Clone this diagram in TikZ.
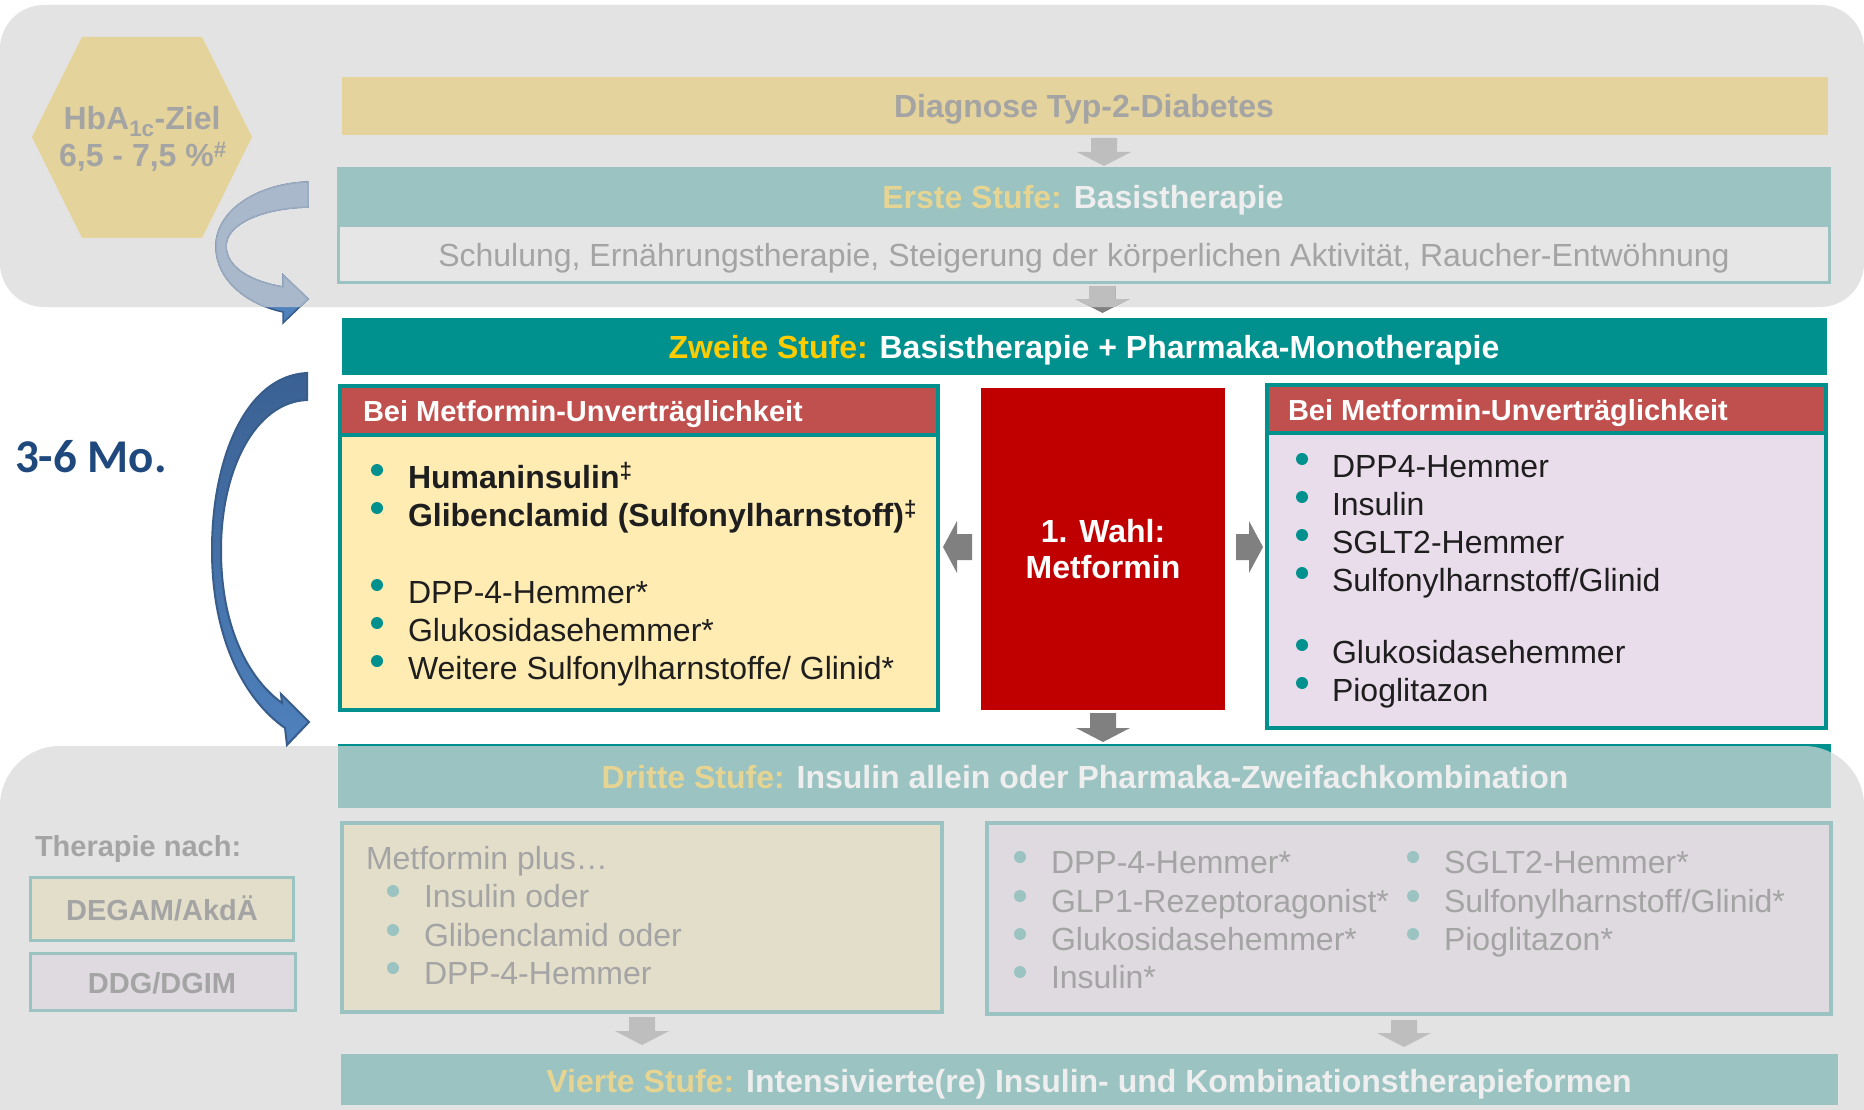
\documentclass[tikz,border=0pt]{standalone}
\usepackage{fontspec}
\setmainfont{Liberation Sans}
\newfontfamily\calibfont{Carlito}
\usetikzlibrary{calc}
\definecolor{bandgray}{HTML}{E3E3E3}
\definecolor{tanF}{HTML}{E4D39C}
\definecolor{hexF}{HTML}{E4D39B}
\definecolor{tealF}{HTML}{9AC3C2}
\definecolor{grayT}{HTML}{A4A4A4}
\definecolor{tanT}{HTML}{E6D592}
\definecolor{whiteT}{HTML}{EEEEEE}
\definecolor{tealD}{HTML}{00918F}
\definecolor{yelC}{HTML}{FFCC00}
\definecolor{redH}{HTML}{C0504D}
\definecolor{yelBody}{HTML}{FFECB3}
\definecolor{lavBody}{HTML}{EADDEB}
\definecolor{redBox}{HTML}{C00000}
\definecolor{darkT}{HTML}{1E1E1E}
\definecolor{midArrow}{HTML}{808080}
\definecolor{fadeArrow}{HTML}{BEBEBE}
\definecolor{beigeF}{HTML}{E3DECA}
\definecolor{lavF}{HTML}{DEDADF}
\definecolor{blueT}{HTML}{1F497D}
\definecolor{blueA}{HTML}{4F81BD}
\definecolor{blueB}{HTML}{3B6193}
\definecolor{blueLine}{HTML}{385D8A}
\definecolor{blueF}{HTML}{A9B8CA}
\definecolor{blueFL}{HTML}{9AABC1}
\definecolor{boxgray}{HTML}{E6E6E6}
\begin{document}
\begin{tikzpicture}[x=1pt,y=-1pt,
  box/.style={anchor=north west, inner sep=0pt, outer sep=0pt},
  txt/.style={inner sep=0pt, outer sep=0pt},
  bw/.style={txt, anchor=base west},
  bc/.style={txt, anchor=base},
  fB/.style={font=\fontsize{32}{38}\selectfont\bfseries},
  fR/.style={font=\fontsize{32}{38}\selectfont},
  fH/.style={font=\fontsize{29}{35}\selectfont\bfseries},
  downblock/.style={to path={let \p1=(\tikztostart), \p2=(\tikztotarget) in
    (\x1-13pt,\y1) -- (\x1-13pt,\y2+14pt) -- (\x1-27pt,\y2+14pt) -- (\x1,\y2) --
    (\x1+27pt,\y2+14pt) -- (\x1+13pt,\y2+14pt) -- (\x1+13pt,\y1) -- cycle}},
  leftblock/.style={to path={let \p1=(\tikztostart), \p2=(\tikztotarget) in
    (\x1,\y1+13pt) -- (\x2+14pt,\y1+13pt) -- (\x2+14pt,\y1+26pt) -- (\x2,\y1) --
    (\x2+14pt,\y1-26pt) -- (\x2+14pt,\y1-13pt) -- (\x1,\y1-13pt) -- cycle}},
  rightblock/.style={to path={let \p1=(\tikztostart), \p2=(\tikztotarget) in
    (\x1,\y1+13pt) -- (\x2-14pt,\y1+13pt) -- (\x2-14pt,\y1+26pt) -- (\x2,\y1) --
    (\x2-14pt,\y1-26pt) -- (\x2-14pt,\y1-13pt) -- (\x1,\y1-13pt) -- cycle}},
  bigarrow/.style={draw=blueLine, line width=2pt, top color=blueB, bottom color=blueA},
  smallD/.style={draw=blueLine, line width=1.5pt, fill=blueA},
  smallF/.style={draw=blueFL, line width=1.5pt, fill=blueF},
  dotM/.style={fill=tealD},
  dotF/.style={fill=tealF}
]
\useasboundingbox (0,0) rectangle (1864,1110);
\clip (0,0) rectangle (1864,1110);
\fill[white] (0,0) rectangle (1864,1110);

% bands
\fill[bandgray, rounded corners=44pt] (0,5) rectangle (1864,307);
\fill[bandgray, rounded corners=60pt] (0,746) rectangle (1864,1180);

% hexagon
\fill[hexF] (82,37) -- (202,37) -- (252,137) -- (202,238) -- (82,238) -- (32,137) -- cycle;
\node[bc, fB, text=grayT] (hba1) at (142,130) {HbA\textsubscript{1c}-Ziel};
\node[bc, fB, text=grayT] (hba2) at (143,167) {6,5 - 7,5 \%\textsuperscript{\#}};

% Diagnose
\node[box, fill=tanF, minimum width=1486pt, minimum height=58pt] (diag) at (342,77) {};
\node[bc, fB, text=grayT] (diagtxt) at (1084,118) {Diagnose Typ-2-Diabetes};

% Erste Stufe
\node[box, draw=tealF, line width=3pt, fill=boxgray, minimum width=1491pt, minimum height=113pt] (erste) at (338,169) {};
\node[box, fill=tealF, minimum width=1491pt, minimum height=58pt] (erstehead) at (338,169) {};
\node[bc, fB, text=whiteT] (erstetxt) at (1083,209) {{\color{tanT}Erste Stufe:} Basistherapie};
\node[bc, fR, text=grayT] (schulung) at (1084,266) {Schulung, Ernährungstherapie, Steigerung der körperlichen Aktivität, Raucher-Entwöhnung};

% Zweite Stufe
\node[box, fill=tealD, minimum width=1485pt, minimum height=57pt] (zweite) at (342,318) {};
\node[bc, fB, text=white] (zweitetxt) at (1084,358) {{\color{yelC}Zweite Stufe:} Basistherapie + Pharmaka-Monotherapie};

% arrows in top band
\fill[fadeArrow] ([xshift=19pt,yshift=-3pt]diag.south) to[downblock] ([yshift=3pt]erste.north);
\fill[midArrow] ([xshift=19pt,yshift=-4pt]erste.south) to[downblock] ([yshift=5pt]zweite.north);
\path[smallD] (308,182) .. controls (255,184) and (216,212) .. (216,246) .. controls (216,282) and (250,305) .. (283,312) -- (283,323) -- (308,299) -- (283,275) -- (283,287) .. controls (252,282) and (226,268) .. (226,246) .. controls (226,224) and (262,208) .. (308,207) -- cycle;
\begin{scope}
  \clip[rounded corners=44pt] (0,5) rectangle (1864,307);
  \fill[fadeArrow] ([xshift=19pt,yshift=-4pt]erste.south) to[downblock] ([yshift=5pt]zweite.north);
  \path[smallF] (308,182) .. controls (255,184) and (216,212) .. (216,246) .. controls (216,282) and (250,305) .. (283,312) -- (283,323) -- (308,299) -- (283,275) -- (283,287) .. controls (252,282) and (226,268) .. (226,246) .. controls (226,224) and (262,208) .. (308,207) -- cycle;
\end{scope}

% left box
\node[box, draw=tealD, line width=3.5pt, fill=yelBody, minimum width=598pt, minimum height=324pt] (lbox) at (340,386) {};
\node[box, draw=tealD, line width=3.5pt, fill=redH, minimum width=598pt, minimum height=49pt] (lhead) at (340,386) {};
\node[bw, fH, text=white] (lheadtxt) at (363,421) {Bei Metformin-Unverträglichkeit};
\foreach \yy in {470,508,585,623,661} \fill[dotM] (377,\yy) circle[radius=6pt];
\node[bw, fB, text=darkT] (l1) at (408,488) {Humaninsulin\textsuperscript{‡}};
\node[bw, fB, text=darkT] (l2) at (408,526) {Glibenclamid (Sulfonylharnstoff)\textsuperscript{‡}};
\node[bw, fR, text=darkT] (l3) at (408,603) {DPP-4-Hemmer*};
\node[bw, fR, text=darkT] (l4) at (408,641) {Glukosidasehemmer*};
\node[bw, fR, text=darkT] (l5) at (408,679) {Weitere Sulfonylharnstoffe/ Glinid*};

% red box
\node[box, fill=redBox, minimum width=244pt, minimum height=322pt] (redbox) at (981,388) {};
\node[bc, fB, text=white] (wahl1) at (1103,542) {1. Wahl:};
\node[bc, fB, text=white] (wahl2) at (1103,578) {Metformin};

% right box
\node[box, draw=tealD, line width=3.5pt, fill=lavBody, minimum width=559pt, minimum height=343pt] (rbox) at (1267,385) {};
\node[box, draw=tealD, line width=3.5pt, fill=redH, minimum width=559pt, minimum height=48pt] (rhead) at (1267,385) {};
\node[bw, fH, text=white] (rheadtxt) at (1288,420) {Bei Metformin-Unverträglichkeit};
\foreach \yy in {459,497,535,573,645,683} \fill[dotM] (1302,\yy) circle[radius=6pt];
\node[bw, fR, text=darkT] (r1) at (1332,477) {DPP4-Hemmer};
\node[bw, fR, text=darkT] (r2) at (1332,515) {Insulin};
\node[bw, fR, text=darkT] (r3) at (1332,553) {SGLT2-Hemmer};
\node[bw, fR, text=darkT] (r4) at (1332,591) {Sulfonylharnstoff/Glinid};
\node[bw, fR, text=darkT] (r5) at (1332,663) {Glukosidasehemmer};
\node[bw, fR, text=darkT] (r6) at (1332,701) {Pioglitazon};

% middle arrows
\fill[midArrow] ([xshift=-9pt,yshift=2pt]redbox.west) to[leftblock] ([xshift=5pt]lbox.east);
\fill[midArrow] ([xshift=11pt,yshift=2pt]redbox.east) to[rightblock] ([xshift=-4pt]rbox.west);

% big blue arrow and label
\path[bigarrow] (307,373) .. controls (245,376) and (212,460) .. (212,550) .. controls (212,640) and (245,700) .. (285,728) -- (287,745) -- (309,722) -- (281,694) -- (282,703) .. controls (250,680) and (221,630) .. (221,550) .. controls (221,470) and (255,402) .. (307,400) -- cycle;
\node[bw, font=\calibfont\fontsize{47}{56}\selectfont\bfseries, text=blueT] (mo) at (15,472) {3-6 Mo.};

% Dritte Stufe
\fill[tealD] (338,744) rectangle (1831,808);
\begin{scope}
  \clip[rounded corners=60pt] (0,746) rectangle (1864,1180);
  \node[box, fill=tealF, minimum width=1493pt, minimum height=62pt] (dritte) at (338,746) {};
\end{scope}
\node[bc, fB, text=whiteT] (drittetxt) at (1085,788) {{\color{tanT}Dritte Stufe:} Insulin allein oder Pharmaka-Zweifachkombination};
\fill[midArrow] ([yshift=-3pt]redbox.south) to[downblock] ([yshift=4pt]dritte.north);

% bottom left box
\node[box, draw=tealF, line width=3.5pt, fill=beigeF, minimum width=600pt, minimum height=189pt] (blbox) at (342,823) {};
\node[bw, fR, text=grayT] (b0) at (366,869) {Metformin plus…};
\foreach \yy in {891,930,968} \fill[dotF] (393,\yy) circle[radius=6pt];
\node[bw, fR, text=grayT] (b1) at (424,907) {Insulin oder};
\node[bw, fR, text=grayT] (b2) at (424,946) {Glibenclamid oder};
\node[bw, fR, text=grayT] (b3) at (424,984) {DPP-4-Hemmer};

% bottom right box
\node[box, draw=tealF, line width=3.5pt, fill=lavF, minimum width=844pt, minimum height=191pt] (brbox) at (987,823) {};
\foreach \yy in {857,896,934,972} \fill[dotF] (1020,\yy) circle[radius=6pt];
\foreach \yy in {857,896,934} \fill[dotF] (1413,\yy) circle[radius=6pt];
\node[bw, fR, text=grayT] (c1) at (1051,873) {DPP-4-Hemmer*};
\node[bw, fR, text=grayT] (c2) at (1051,912) {GLP1-Rezeptoragonist*};
\node[bw, fR, text=grayT] (c3) at (1051,950) {Glukosidasehemmer*};
\node[bw, fR, text=grayT] (c4) at (1051,988) {Insulin*};
\node[bw, fR, text=grayT] (c5) at (1444,873) {SGLT2-Hemmer*};
\node[bw, fR, text=grayT] (c6) at (1444,912) {Sulfonylharnstoff/Glinid*};
\node[bw, fR, text=grayT] (c7) at (1444,950) {Pioglitazon*};

% Vierte Stufe
\node[box, fill=tealF, minimum width=1497pt, minimum height=51pt] (vierte) at (341,1054) {};
\node[bc, fB, text=whiteT] (viertetxt) at (1089,1092) {{\color{tanT}Vierte Stufe:} Intensivierte(re) Insulin- und Kombinationstherapieformen};
\fill[fadeArrow] ([yshift=-5pt]blbox.south) to[downblock] ([yshift=9pt]vierte.north);
\fill[fadeArrow] ([xshift=-5pt,yshift=-6pt]brbox.south) to[downblock] ([yshift=7pt]vierte.north);

% legend
\node[bw, fH, text=grayT] (therapie) at (35,856) {Therapie nach:};
\node[box, draw=tealF, line width=3pt, fill=beigeF, minimum width=263pt, minimum height=63pt] (degam) at (30,877) {};
\node[bc, fH, text=grayT] (degamtxt) at (162,920) {DEGAM/AkdÄ};
\node[box, draw=tealF, line width=3pt, fill=lavF, minimum width=265pt, minimum height=57pt] (ddg) at (30,953) {};
\node[bc, fH, text=grayT] (ddgtxt) at (162,993) {DDG/DGIM};
\end{tikzpicture}
\end{document}
